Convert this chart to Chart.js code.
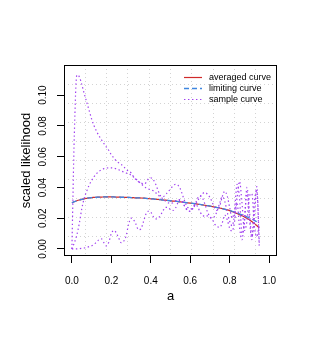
<!DOCTYPE html>
<html>
<head>
<meta charset="utf-8">
<script src="https://cdn.jsdelivr.net/npm/chart.js@4.4.0/dist/chart.umd.min.js"></script>
<style>
  body { margin: 0; background: #fff; }
  #wrap { width: 311px; height: 338px; }
</style>
</head>
<body>
<div id="wrap"><canvas id="chart" width="311" height="338"></canvas></div>
<script>
// valores
const aValues = [
  0, 0.0125, 0.025, 0.0375, 0.05, 0.0625, 0.075, 0.0875, 0.1, 0.1125,
  0.125, 0.1375, 0.15, 0.1625, 0.175, 0.1875, 0.2, 0.2125, 0.225, 0.2375,
  0.25, 0.2625, 0.275, 0.2875, 0.3, 0.3125, 0.325, 0.3375, 0.35, 0.3625,
  0.375, 0.3875, 0.4, 0.4125, 0.425, 0.4375, 0.45, 0.4625, 0.475, 0.4875,
  0.5, 0.5125, 0.525, 0.5375, 0.55, 0.5625, 0.575, 0.5875, 0.6, 0.6125,
  0.625, 0.6375, 0.65, 0.6625, 0.675, 0.6875, 0.7, 0.7125, 0.725, 0.7375,
  0.75, 0.7625, 0.775, 0.7875, 0.8, 0.8125, 0.825, 0.8375, 0.85, 0.8625,
  0.875, 0.8875, 0.9, 0.9125, 0.925, 0.9375, 0.95
];

const averagedCurve = [
  0.0300, 0.0307, 0.0313, 0.0318, 0.0322, 0.0326, 0.0329, 0.0332, 0.0334, 0.0335,
  0.0336, 0.0337, 0.0337, 0.0338, 0.0338, 0.0338, 0.0338, 0.0338, 0.0337, 0.0337,
  0.0336, 0.0336, 0.0335, 0.0335, 0.0334, 0.0333, 0.0332, 0.0332, 0.0331, 0.0330,
  0.0329, 0.0327, 0.0326, 0.0325, 0.0323, 0.0322, 0.0320, 0.0318, 0.0317, 0.0315,
  0.0313, 0.0311, 0.0310, 0.0308, 0.0306, 0.0304, 0.0302, 0.0300, 0.0298, 0.0296,
  0.0294, 0.0291, 0.0289, 0.0286, 0.0284, 0.0281, 0.0278, 0.0275, 0.0272, 0.0269,
  0.0266, 0.0262, 0.0258, 0.0254, 0.0249, 0.0243, 0.0237, 0.0230, 0.0223, 0.0216,
  0.0208, 0.0199, 0.0190, 0.0178, 0.0166, 0.0152, 0.0137
];

const limitingCurve = [
  0.0300, 0.0307, 0.0313, 0.0318, 0.0322, 0.0326, 0.0329, 0.0332, 0.0334, 0.0335,
  0.0336, 0.0337, 0.0337, 0.0338, 0.0338, 0.0338, 0.0338, 0.0338, 0.0337, 0.0337,
  0.0336, 0.0336, 0.0335, 0.0335, 0.0334, 0.0333, 0.0332, 0.0332, 0.0331, 0.0330,
  0.0329, 0.0327, 0.0326, 0.0325, 0.0323, 0.0322, 0.0320, 0.0318, 0.0317, 0.0315,
  0.0313, 0.0311, 0.0310, 0.0308, 0.0306, 0.0304, 0.0302, 0.0300, 0.0298, 0.0296,
  0.0294, 0.0291, 0.0289, 0.0286, 0.0284, 0.0281, 0.0278, 0.0275, 0.0272, 0.0269,
  0.0266, 0.0262, 0.0258, 0.0254, 0.0250, 0.0245, 0.0240, 0.0234, 0.0228, 0.0222,
  0.0216, 0.0209, 0.0202, 0.0194, 0.0186, 0.0176, 0.0165
];

const sampleCurve1 = [
  0.0000, 0.0750, 0.1130, 0.1120, 0.1070, 0.1010, 0.0955, 0.0900, 0.0845, 0.0800,
  0.0765, 0.0735, 0.0710, 0.0685, 0.0662, 0.0640, 0.0612, 0.0592, 0.0572, 0.0560,
  0.0550, 0.0535, 0.0518, 0.0505, 0.0495, 0.0470, 0.0450, 0.0437, 0.0430, 0.0422,
  0.0430, 0.0455, 0.0462, 0.0450, 0.0420, 0.0378, 0.0345, 0.0340, 0.0352, 0.0372,
  0.0390, 0.0410, 0.0420, 0.0415, 0.0390, 0.0345, 0.0300, 0.0270, 0.0260, 0.0265,
  0.0285, 0.0312, 0.0340, 0.0360, 0.0368, 0.0355, 0.0335, 0.0300, 0.0262, 0.0250,
  0.0280, 0.0340, 0.0375, 0.0345, 0.0270, 0.0200, 0.0260, 0.0420, 0.0330, 0.0100,
  0.0170, 0.0400, 0.0250, 0.0080, 0.0200, 0.0405, 0.0040
];

const sampleCurve2 = [
  0.0000, 0.0040, 0.0090, 0.0165, 0.0260, 0.0330, 0.0375, 0.0415, 0.0445, 0.0470,
  0.0490, 0.0505, 0.0515, 0.0522, 0.0526, 0.0527, 0.0527, 0.0525, 0.0521, 0.0515,
  0.0507, 0.0500, 0.0494, 0.0488, 0.0480, 0.0468, 0.0455, 0.0440, 0.0425, 0.0410,
  0.0398, 0.0390, 0.0385, 0.0378, 0.0365, 0.0350, 0.0338, 0.0325, 0.0310, 0.0300,
  0.0295, 0.0300, 0.0312, 0.0320, 0.0318, 0.0300, 0.0270, 0.0250, 0.0245, 0.0260,
  0.0290, 0.0330, 0.0345, 0.0330, 0.0290, 0.0240, 0.0210, 0.0200, 0.0215, 0.0250,
  0.0300, 0.0340, 0.0310, 0.0240, 0.0180, 0.0150, 0.0220, 0.0330, 0.0440, 0.0300,
  0.0120, 0.0180, 0.0340, 0.0360, 0.0150, 0.0080, 0.0160
];

const sampleCurve3 = [
  0.0000, 0.0000, 0.0000, 0.0002, 0.0004, 0.0006, 0.0010, 0.0015, 0.0020, 0.0030,
  0.0045, 0.0060, 0.0065, 0.0040, 0.0020, 0.0045, 0.0100, 0.0120, 0.0105, 0.0070,
  0.0040, 0.0050, 0.0085, 0.0160, 0.0200, 0.0190, 0.0160, 0.0125, 0.0130, 0.0175,
  0.0225, 0.0245, 0.0240, 0.0210, 0.0195, 0.0200, 0.0220, 0.0250, 0.0270, 0.0270,
  0.0255, 0.0250, 0.0265, 0.0300, 0.0320, 0.0300, 0.0270, 0.0250, 0.0245, 0.0265,
  0.0290, 0.0275, 0.0240, 0.0220, 0.0210, 0.0215, 0.0205, 0.0190, 0.0160, 0.0145,
  0.0140, 0.0170, 0.0220, 0.0190, 0.0135, 0.0115, 0.0180, 0.0300, 0.0140, 0.0060,
  0.0200, 0.0370, 0.0200, 0.0060, 0.0300, 0.0380, 0.0020
];

const xTickValues = [0, 0.2, 0.4, 0.6, 0.8, 1.0];
const xTickLabels = ['0.0', '0.2', '0.4', '0.6', '0.8', '1.0'];
const yTickValues = [0, 0.02, 0.04, 0.06, 0.08, 0.10];
const yTickLabels = ['0.00', '0.02', '0.04', '0.06', '0.08', '0.10'];
const legendLabels = ['averaged curve', 'limiting curve', 'sample curve'];

const X_MIN = -0.04, X_MAX = 1.04;
const Y_MIN = -0.0046, Y_MAX = 0.1196;
const FONT = '"Liberation Sans", Arial, Helvetica, sans-serif';

Chart.defaults.font.family = FONT;
Chart.defaults.color = '#000';

function pts(ys) {
    return aValues.map((a, i) => ({ x: a, y: ys[i] }));
}

const RED = '#d02a2a';
const BLUE = '#3f86e0';
const PURPLE = '#a040f0';

const dotted = {
    borderColor: PURPLE,
    borderWidth: 1.2,
    borderDash: [1.4, 2.6],
    pointRadius: 0,
    cubicInterpolationMode: 'monotone',
    order: 1
};

// caixa em volta da area do grafico, rotulos do eixo y e legenda
const rBox = {
    id: 'rBox',
    afterDraw(chart) {
        const ctx = chart.ctx;
        const area = chart.chartArea;
        ctx.save();
        ctx.strokeStyle = '#000';
        ctx.lineWidth = 1;
        ctx.setLineDash([]);
        ctx.strokeRect(area.left + 0.5, area.top + 0.5, area.right - area.left - 1, area.bottom - area.top - 1);

        // rotulos do eixo y, girados como no R
        const yScale = chart.scales.y;
        ctx.font = '10px ' + FONT;
        ctx.fillStyle = '#000';
        ctx.textAlign = 'center';
        ctx.textBaseline = 'middle';
        yTickValues.forEach(function(v, i) {
            const py = yScale.getPixelForValue(v);
            ctx.save();
            ctx.translate(43.5, py);
            ctx.rotate(-Math.PI / 2);
            ctx.fillText(yTickLabels[i], 0, 0);
            ctx.restore();
        });

        // legenda
        ctx.font = '9px ' + FONT;
        ctx.textAlign = 'left';
        legendLabels.forEach(function(label, i) {
            const ds = chart.data.datasets[i];
            const y = 77 + i * 11;
            ctx.beginPath();
            ctx.strokeStyle = ds.borderColor;
            ctx.lineWidth = ds.borderWidth;
            ctx.setLineDash(ds.borderDash || []);
            ctx.moveTo(184, y + 0.5);
            ctx.lineTo(202, y + 0.5);
            ctx.stroke();
            ctx.setLineDash([]);
            ctx.fillStyle = '#000';
            ctx.fillText(label, 209, y + 0.5);
        });
        ctx.restore();
    }
};

function gridTicks(min, max) {
    const t = [];
    for (let k = 1; k < 10; k++) t.push({ value: min + k * (max - min) / 10 });
    return t;
}

const ctx = document.getElementById('chart');
new Chart(ctx.getContext('2d'), {
    type: 'line',
    data: {
        datasets: [
            {
                label: 'averaged curve',
                data: pts(averagedCurve),
                borderColor: RED,
                borderWidth: 1.2,
                pointRadius: 0,
                cubicInterpolationMode: 'monotone',
                order: 3
            },
            {
                label: 'limiting curve',
                data: pts(limitingCurve),
                borderColor: BLUE,
                borderWidth: 1.3,
                borderDash: [5, 3],
                pointRadius: 0,
                cubicInterpolationMode: 'monotone',
                order: 2
            },
            Object.assign({ label: 'sample curve', data: pts(sampleCurve1) }, dotted),
            Object.assign({ label: 'sample curve', data: pts(sampleCurve2) }, dotted),
            Object.assign({ label: 'sample curve', data: pts(sampleCurve3) }, dotted)
        ]
    },
    options: {
        responsive: false,
        animation: false,
        layout: { padding: { left: 0, top: 65, right: 34, bottom: 0 } },
        plugins: {
            legend: { display: false },
            tooltip: { enabled: false }
        },
        scales: {
            x: {
                type: 'linear',
                position: 'bottom',
                min: X_MIN,
                max: X_MAX,
                afterBuildTicks: function(scale) {
                    scale.ticks = xTickValues.map(v => ({ value: v }));
                },
                afterFit: function(scale) { scale.height = 82; },
                ticks: {
                    font: { size: 10 },
                    padding: 12,
                    maxRotation: 0,
                    callback: function(value, index) { return xTickLabels[index]; }
                },
                grid: { drawOnChartArea: false, drawTicks: true, tickLength: 7, tickColor: '#000', tickWidth: 1 },
                border: { display: false },
                title: { display: true, text: 'a', font: { size: 13 }, padding: { top: 0, bottom: 33.5 } }
            },
            y: {
                type: 'linear',
                position: 'left',
                min: Y_MIN,
                max: Y_MAX,
                afterBuildTicks: function(scale) {
                    scale.ticks = yTickValues.map(v => ({ value: v }));
                },
                afterFit: function(scale) { scale.width = 64; },
                ticks: { display: false },
                grid: { drawOnChartArea: false, drawTicks: true, tickLength: 7, tickColor: '#000', tickWidth: 1 },
                border: { display: false },
                title: { display: true, text: 'scaled likelihood', font: { size: 13 }, padding: { top: 19, bottom: 0 } }
            },
            xg: {
                type: 'linear',
                position: 'top',
                min: X_MIN,
                max: X_MAX,
                afterBuildTicks: function(scale) { scale.ticks = gridTicks(X_MIN, X_MAX); },
                afterFit: function(scale) { scale.height = 0; },
                ticks: { display: false },
                grid: { color: '#d3d3d3', lineWidth: 1, drawTicks: false },
                border: { display: false, dash: [1, 3] }
            },
            yg: {
                type: 'linear',
                position: 'right',
                min: Y_MIN,
                max: Y_MAX,
                afterBuildTicks: function(scale) { scale.ticks = gridTicks(Y_MIN, Y_MAX); },
                afterFit: function(scale) { scale.width = 0; },
                ticks: { display: false },
                grid: { color: '#d3d3d3', lineWidth: 1, drawTicks: false },
                border: { display: false, dash: [1, 3] }
            }
        }
    },
    plugins: [rBox]
});
</script>
</body>
</html>
